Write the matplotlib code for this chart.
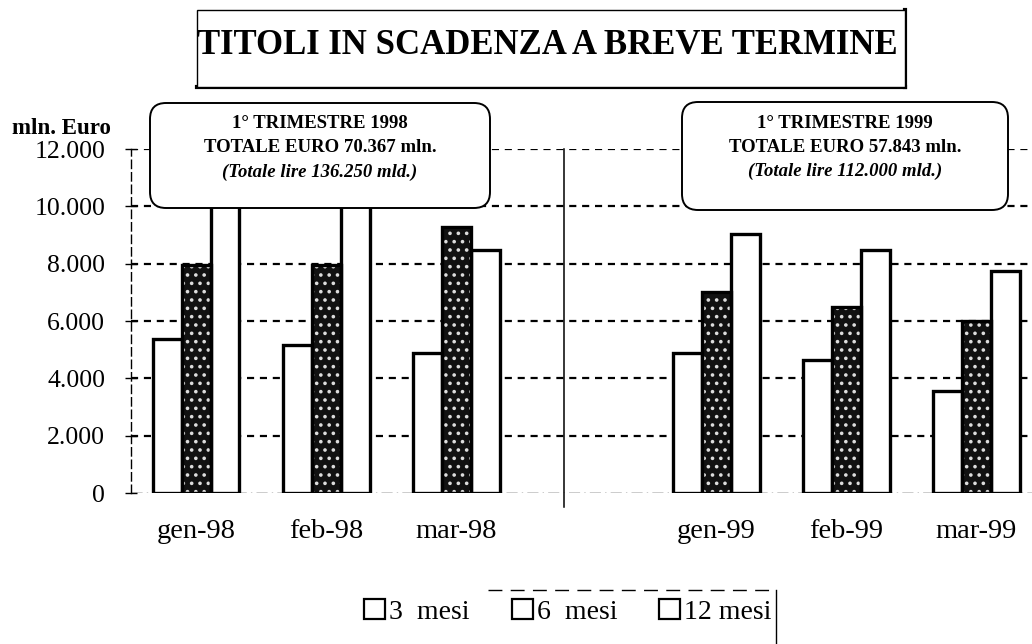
import matplotlib
matplotlib.use("Agg")
import matplotlib.pyplot as plt
import numpy as np
from matplotlib.patches import FancyBboxPatch, Rectangle
from matplotlib.lines import Line2D
from matplotlib.transforms import IdentityTransform

# ---------------- data ----------------
categories = ["gen-98", "feb-98", "mar-98", "gen-99", "feb-99", "mar-99"]
cat_pos = [0, 1, 2, 4, 5, 6]
series_names = ["3  mesi", "6  mesi", "12 mesi"]
mesi3 = [5370, 5160, 4870, 4890, 4630, 3560]
mesi6 = [7940, 7940, 9280, 7010, 6490, 6000]
mesi12 = [10700, 10600, 8490, 9050, 8490, 7750]
yticks = [0, 2000, 4000, 6000, 8000, 10000, 12000]
ytick_labels = ["0", "2.000", "4.000", "6.000", "8.000", "10.000", "12.000"]
title = "TITOLI IN SCADENZA A BREVE TERMINE"
ylabel = "mln. Euro"
box1_lines = ["1° TRIMESTRE 1998", "TOTALE EURO 70.367 mln.", "(Totale lire 136.250 mld.)"]
box2_lines = ["1° TRIMESTRE 1999", "TOTALE EURO 57.843 mln.", "(Totale lire 112.000 mld.)"]

SERIF = ["Liberation Serif", "DejaVu Serif"]
plt.rcParams["font.family"] = SERIF
plt.rcParams["hatch.linewidth"] = 1.4

W, H = 1032, 644
fig = plt.figure(figsize=(W / 100, H / 100), dpi=100)
fig.patch.set_facecolor("white")

def fx(px):
    return px / W

def fy(py):
    return 1 - py / H

ax = fig.add_axes([fx(131), fy(493), fx(1032 - 131), (493 - 149) / H])
ax.set_xlim(-0.5, 6.43)
ax.set_ylim(0, 12000)

x = np.array(cat_pos, dtype=float)
bw = 0.223
lw = 2.4
ax.bar(x - bw, mesi3, bw, color="white", edgecolor="black", linewidth=lw, zorder=3)
ax.bar(x, mesi6, bw, color="#111111", edgecolor="#dddddd", hatch="..", linewidth=0, zorder=3)
ax.bar(x, mesi6, bw, color="none", edgecolor="black", linewidth=lw, zorder=4)
ax.bar(x + bw, mesi12, bw, color="white", edgecolor="black", linewidth=lw, zorder=3)

# grid
for yv in yticks[1:]:
    ax.axhline(yv, color="black", lw=1.6, dashes=(3.2, 2.6), zorder=1)
ax.axhline(0, color="black", lw=1.0, linestyle=(0, (8, 3, 1, 3)), zorder=1)

# divider
ax.plot([2.83, 2.83], [-500, 12000], color="black", lw=1.1, clip_on=False, zorder=2)

for s in ["top", "right", "bottom"]:
    ax.spines[s].set_visible(False)
ax.spines["left"].set_linestyle((0, (6, 3)))
ax.spines["left"].set_linewidth(1.0)

ax.set_yticks(yticks)
ax.set_yticklabels(ytick_labels, fontsize=18.5)
ax.tick_params(axis="y", direction="inout", length=9, width=1, pad=14)
ax.set_xticks(x)
ax.set_xticklabels(categories, fontsize=20.5)
ax.tick_params(axis="x", length=0, pad=19)

fig.text(fx(12), fy(128), ylabel, fontsize=16.5, fontweight="bold", ha="left", va="center")

# title box
tb = Rectangle((197, H - 87), 708, 77, transform=IdentityTransform(),
               facecolor="white", edgecolor="black", lw=1.0, zorder=5)
fig.patches.append(tb)
fig.lines.append(Line2D([197, 905], [H - 87, H - 87], transform=IdentityTransform(), color="black", lw=3))
fig.lines.append(Line2D([905, 905], [H - 87, H - 10], transform=IdentityTransform(), color="black", lw=3))
fig.text(fx(547), fy(46), title, fontsize=25, fontweight="bold", ha="center", va="center", zorder=6)

# annotation boxes
def note_box(x0, x1, y0, y1, lines):
    p = FancyBboxPatch((x0, H - y1), x1 - x0, y1 - y0,
                       boxstyle="round,pad=0,rounding_size=16",
                       transform=IdentityTransform(), facecolor="white",
                       edgecolor="black", lw=1.4, zorder=10)
    fig.patches.append(p)
    cx = (x0 + x1) / 2
    ys = [y0 + 21, y0 + 45, y0 + 69]
    for i, (t, yy) in enumerate(zip(lines, ys)):
        fig.text(fx(cx), fy(yy), t, fontsize=13.5, fontweight="bold",
                 fontstyle="italic" if i == 2 else "normal",
                 ha="center", va="center", zorder=11)

note_box(150, 490, 103, 208, box1_lines)
note_box(682, 1008, 102, 210, box2_lines)

# legend
handles = [Rectangle((0, 0), 1, 1, facecolor="white", edgecolor="black", lw=1.6) for _ in series_names]
leg = fig.legend(handles, series_names, loc="center", bbox_to_anchor=(fx(568), fy(612)),
                 ncol=3, frameon=False, fontsize=20, handlelength=0.75, handleheight=0.75,
                 handletextpad=0.15, columnspacing=1.5)

fig.lines.append(Line2D([488, 776], [H - 590, H - 590], transform=IdentityTransform(),
                        color="black", lw=1.0, dashes=(10, 6)))
fig.lines.append(Line2D([776, 776], [H - 590, 0], transform=IdentityTransform(),
                        color="black", lw=1.0))

fig.savefig("out.png", dpi=100)
